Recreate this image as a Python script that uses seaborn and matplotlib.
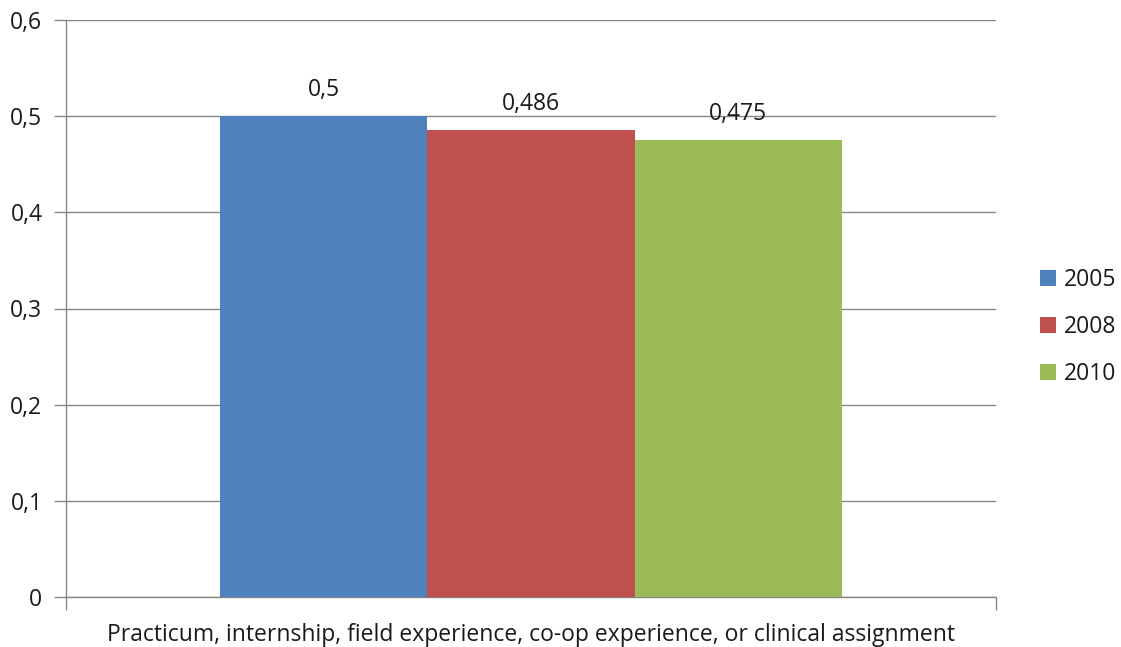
import matplotlib
matplotlib.use("Agg")
import matplotlib.pyplot as plt
import seaborn as sns
import pandas as pd
from matplotlib.ticker import FixedLocator, FuncFormatter
from matplotlib.patches import Patch

# Data
category = ["Practicum, internship, field experience, co-op experience, or clinical assignment"]
years = ["2005", "2008", "2010"]
values = [0.5, 0.486, 0.475]
value_labels = ["0,5", "0,486", "0,475"]
y_ticks = [0, 0.1, 0.2, 0.3, 0.4, 0.5, 0.6]

colors = ["#4F81BD", "#C0504D", "#9BBB59"]
grid_color = "#868686"
text_color = "#1a1a1a"
fs = 16.5

df = pd.DataFrame({
    "category": category * len(years),
    "year": years,
    "value": values,
})

sns.set_theme(style="white")
plt.rcParams["font.family"] = ["Open Sans", "DejaVu Sans"]

fig = plt.figure(figsize=(11.21, 6.47), dpi=100)
ax = fig.add_axes([66 / 1121, 1 - 597 / 647, 930 / 1121, 577 / 647])

sns.barplot(data=df, x="category", y="value", hue="year", palette=colors,
            width=0.669, gap=0, saturation=1, ax=ax, legend=False,
            edgecolor="none", linewidth=0, zorder=3)

ax.set_xlim(-0.5, 0.5)
ax.set_ylim(0, 0.6)
ax.yaxis.set_major_locator(FixedLocator(y_ticks))
ax.yaxis.set_major_formatter(FuncFormatter(
    lambda v, p: "0" if v == 0 else f"{v:.1f}".replace(".", ",")))
ax.grid(axis="y", color=grid_color, linewidth=1, zorder=0)
ax.set_axisbelow(True)

for side in ["top", "right"]:
    ax.spines[side].set_visible(False)
ax.spines["left"].set_color(grid_color)
ax.spines["bottom"].set_color(grid_color)
ax.spines["left"].set_linewidth(1)
ax.spines["bottom"].set_linewidth(1)

ax.tick_params(axis="y", which="major", length=9, width=1, color=grid_color,
               labelsize=fs, labelcolor=text_color, pad=8, left=True)
ax.set_xticks([])
ax.xaxis.set_minor_locator(FixedLocator([-0.5, 0.5]))
ax.tick_params(axis="x", which="minor", length=9, width=1, color=grid_color, bottom=True)

ax.set_xlabel(category[0], fontsize=fs, color=text_color, labelpad=6)
ax.set_ylabel("")

# Value labels above bars
for bar, lab in zip(ax.patches, value_labels):
    ax.annotate(lab, (bar.get_x() + bar.get_width() / 2, bar.get_height()),
                xytext=(0, 10), textcoords="offset points", ha="center",
                va="bottom", fontsize=fs, color=text_color)

handles = [Patch(facecolor=c, edgecolor="none") for c in colors]
fig.legend(handles, years, loc="center left", bbox_to_anchor=(1040 / 1121, 1 - 327 / 647),
           frameon=False, fontsize=fs, handlelength=0.7, handleheight=0.7,
           handletextpad=0.35, labelspacing=1.0, borderpad=0, borderaxespad=0,
           labelcolor=text_color)

fig.savefig("out.png", dpi=100)
